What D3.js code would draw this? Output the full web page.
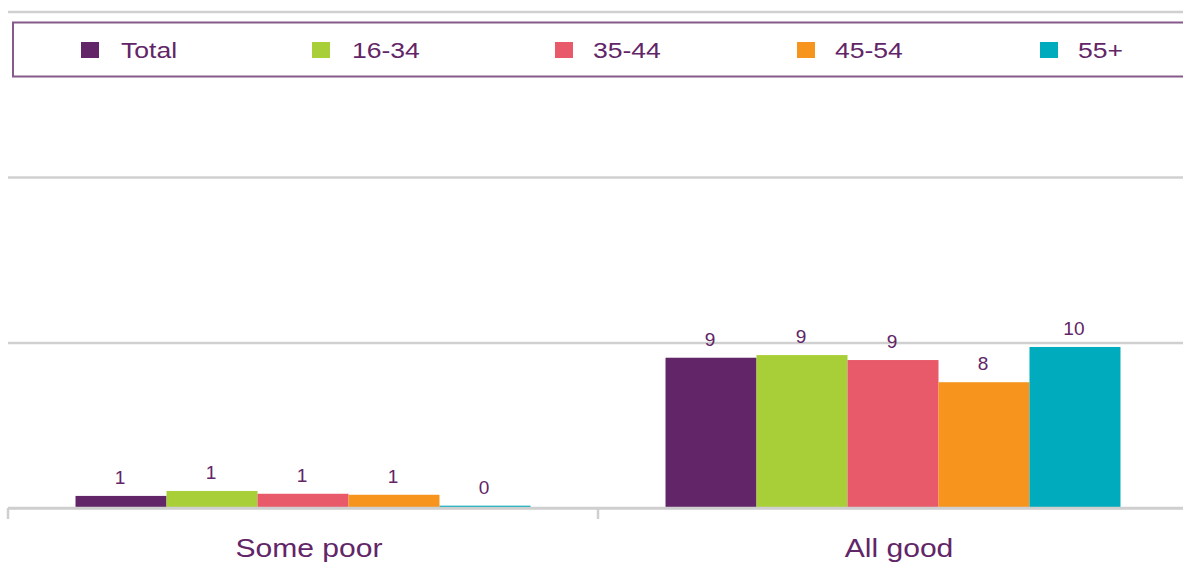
<!DOCTYPE html>
<html>
<head>
<meta charset="utf-8">
<script src="https://cdn.jsdelivr.net/npm/d3@7"></script>
<style>
  html, body { margin: 0; padding: 0; background: #fff; }
  svg { display: block; font-family: "Liberation Sans", Arial, sans-serif; }
</style>
</head>
<body>
<svg id="chart" width="1183" height="563"></svg>
<script>
// Categories and age groups
const categories = ["Some poor", "All good"];
const seriesNames = ["Total", "16-34", "35-44", "45-54", "55+"];
const seriesColors = ["#622567", "#a9cf38", "#e8596a", "#f7941e", "#00abbd"];

// Values per age group, one entry per category
const totalValues = [0.73, 9.08];
const age1634Values = [1.03, 9.24];
const age3544Values = [0.86, 8.94];
const age4554Values = [0.80, 7.6];
const age55Values = [0.14, 9.73];

const yTicks = [0, 10, 20, 30];

const seriesValues = [totalValues, age1634Values, age3544Values, age4554Values, age55Values];
const textColor = "#622567";
const wideText = 1.18; // horizontal stretch applied to legend and category labels

const svg = d3.select("#chart");

const plot = { left: 8, right: 1188, top: 11.5, bottom: 508 };

const x0 = d3.scaleBand()
  .domain(categories)
  .range([plot.left, plot.right])
  .paddingInner(0)
  .paddingOuter(0);

const x1 = d3.scaleBand()
  .domain(seriesNames)
  .range([0, x0.bandwidth()])
  .paddingInner(0)
  .paddingOuter(0.742);

const y = d3.scaleLinear()
  .domain([0, 30])
  .range([plot.bottom, plot.top]);

// Horizontal gridlines
const grid = svg.append("g")
  .attr("transform", `translate(${plot.left},0)`)
  .call(d3.axisLeft(y).tickValues(yTicks).tickSize(-(plot.right - plot.left)).tickFormat(""));
grid.select(".domain").remove();
grid.selectAll(".tick line")
  .attr("stroke", "#d0d0d0")
  .attr("stroke-width", 2.5);

// Legend frame and entries
const legend = svg.append("g");
legend.append("rect")
  .attr("x", 13).attr("y", 22.5)
  .attr("width", 1200).attr("height", 54)
  .attr("fill", "#fff")
  .attr("stroke", "#865a8a")
  .attr("stroke-width", 2);

const legendSwatchX = [81, 312, 555, 797, 1040];
const legendItems = legend.selectAll("g.item")
  .data(seriesNames)
  .join("g")
  .attr("class", "item")
  .attr("transform", (d, i) => `translate(${legendSwatchX[i]},42)`);
legendItems.append("rect")
  .attr("width", 18).attr("height", 16)
  .attr("fill", (d, i) => seriesColors[i]);
legendItems.append("text")
  .attr("transform", (d, i) => `translate(${i < 2 ? 40 : 38},16) scale(${wideText},1)`)
  .attr("fill", textColor)
  .attr("font-size", 22.5)
  .text(d => d);

// Bars grouped by category
const groups = svg.append("g")
  .selectAll("g")
  .data(categories)
  .join("g")
  .attr("transform", d => `translate(${x0(d)},0)`);

const cells = groups.selectAll("g")
  .data((c, ci) => seriesNames.map((s, si) => ({ series: s, si, value: seriesValues[si][ci] })))
  .join("g");

cells.append("rect")
  .attr("x", d => x1(d.series))
  .attr("width", x1.bandwidth())
  .attr("y", d => y(d.value))
  .attr("height", d => y(0) - y(d.value))
  .attr("fill", d => seriesColors[d.si]);

cells.append("text")
  .attr("x", d => x1(d.series) + x1.bandwidth() / 2 - 1)
  .attr("y", d => y(d.value) - 12)
  .attr("text-anchor", "middle")
  .attr("fill", textColor)
  .attr("font-size", 18)
  .attr("transform", d => {
    const cx = x1(d.series) + x1.bandwidth() / 2 - 1;
    return `translate(${cx},0) scale(1.06,1) translate(${-cx},0)`;
  })
  .text(d => d3.format(".0f")(d.value));

// Category axis with boundary ticks
const axis = svg.append("g");
axis.append("line")
  .attr("x1", plot.left).attr("x2", plot.right)
  .attr("y1", y(0)).attr("y2", y(0))
  .attr("stroke", "#cfcfcf")
  .attr("stroke-width", 2.5);
const boundaries = categories.map(c => x0(c)).concat([x0.range()[1]]);
axis.selectAll("line.tick")
  .data(boundaries)
  .join("line")
  .attr("class", "tick")
  .attr("x1", d => d).attr("x2", d => d)
  .attr("y1", y(0)).attr("y2", y(0) + 11)
  .attr("stroke", "#cfcfcf")
  .attr("stroke-width", 2.5);
axis.selectAll("text")
  .data(categories)
  .join("text")
  .attr("transform", d => `translate(${x0(d) + x0.bandwidth() / 2 + 6},557) scale(${wideText},1)`)
  .attr("text-anchor", "middle")
  .attr("fill", textColor)
  .attr("font-size", 25.5)
  .text(d => d);
</script>
</body>
</html>
